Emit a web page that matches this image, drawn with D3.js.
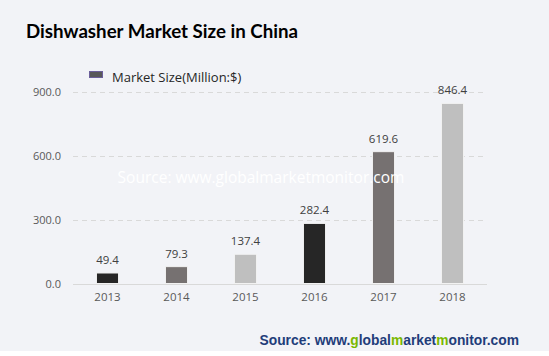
<!DOCTYPE html>
<html><head><meta charset="utf-8">
<script src="https://cdn.jsdelivr.net/npm/d3@7"></script>
<style>
html,body{margin:0;padding:0;background:#fff;}
svg{display:block;}
</style></head>
<body>
<svg id="chart" width="549" height="356"></svg>
<script>
const categories = ["2013","2014","2015","2016","2017","2018"];
const values = [49.4, 79.3, 137.4, 282.4, 619.6, 846.4];
const barColors = ["#262626","#767171","#bfbfbf","#262626","#767171","#bfbfbf"];
const yTicks = [0, 300, 600, 900];
const title = "Dishwasher Market Size in China";
const seriesName = "Market Size(Million:$)";

const svg = d3.select("#chart");
svg.append("rect").attr("x",0).attr("y",0).attr("width",549).attr("height",351).attr("fill","#f2f3f7");

const x = d3.scaleBand().domain(categories).range([73,487]).paddingInner(0.68).paddingOuter(0.34);
const y = d3.scaleLinear().domain([0,900]).range([283.5,92]);

svg.append("text").attr("x",26).attr("y",38).text(title)
  .attr("font-family","Lato, Open Sans, sans-serif").attr("font-weight","bold")
  .attr("font-size",19).attr("fill","#000")
  .attr("textLength",272).attr("lengthAdjust","spacingAndGlyphs");

// legend
svg.append("rect").attr("x",89.5).attr("y",71.5).attr("width",13).attr("height",6)
  .attr("fill","#595959").attr("stroke","#6b5f9a").attr("stroke-width",1);
svg.append("text").attr("x",112).attr("y",82).text(seriesName)
  .attr("font-family","Open Sans, Noto Sans, sans-serif").attr("font-size",13).attr("fill","#262626");

// grid
const grid = svg.append("g");
yTicks.forEach(t=>{
  grid.append("line").attr("x1",73).attr("x2",487).attr("y1",Math.round(y(t))+0.5).attr("y2",Math.round(y(t))+0.5)
    .attr("stroke","#d9d9d9").attr("stroke-width",1)
    .attr("stroke-dasharray", t===0 ? null : "5,4");
});

// y axis
const yAxis = svg.append("g").attr("transform","translate(61,0)")
  .call(d3.axisLeft(y).tickValues(yTicks).tickFormat(d3.format(".1f")).tickSize(0).tickPadding(0));
yAxis.select(".domain").remove();
yAxis.selectAll("text").attr("font-family","Open Sans, Noto Sans, sans-serif").attr("font-size",11).attr("fill","#595959");

// x axis
const xAxis = svg.append("g").attr("transform","translate(0,293)")
  .call(d3.axisBottom(x).tickSize(0).tickPadding(0));
xAxis.select(".domain").remove();
xAxis.selectAll("text").attr("font-family","Open Sans, Noto Sans, sans-serif").attr("font-size",11.5).attr("fill","#595959");

// bars
svg.append("g").selectAll("rect").data(values).join("rect")
  .attr("x",(d,i)=>x(categories[i])).attr("width",x.bandwidth())
  .attr("y",d=>y(d)).attr("height",d=>y(0)-y(d))
  .attr("fill",(d,i)=>barColors[i]).attr("stroke","#f2f2f2").attr("stroke-width",1);

// labels
svg.append("g").selectAll("text").data(values).join("text")
  .attr("x",(d,i)=>x(categories[i])+x.bandwidth()/2).attr("y",d=>y(d)-9)
  .attr("text-anchor","middle").text(d=>d3.format(".1f")(d))
  .attr("font-family","Open Sans, Noto Sans, sans-serif").attr("font-size",11.5).attr("fill","#404040");

// watermark
svg.append("text").attr("x",261).attr("y",183).attr("text-anchor","middle")
  .text("Source: www.globalmarketmonitor.com")
  .attr("font-family","Open Sans, Noto Sans, sans-serif").attr("font-size",15.5).attr("fill","#ffffff");

// bottom source
const src = svg.append("text").attr("x",519).attr("y",345).attr("text-anchor","end")
  .attr("font-family","Liberation Sans, Arial, sans-serif").attr("font-weight","bold").attr("font-size",13.8).attr("fill","#1f3d7a");
const parts = [["Source: www.","#1f3d7a"],["g","#7ab800"],["lobal","#1f3d7a"],["m","#7ab800"],["arket","#1f3d7a"],["m","#7ab800"],["onitor.com","#1f3d7a"]];
parts.forEach(p=>src.append("tspan").text(p[0]).attr("fill",p[1]));
</script>
</body></html>
